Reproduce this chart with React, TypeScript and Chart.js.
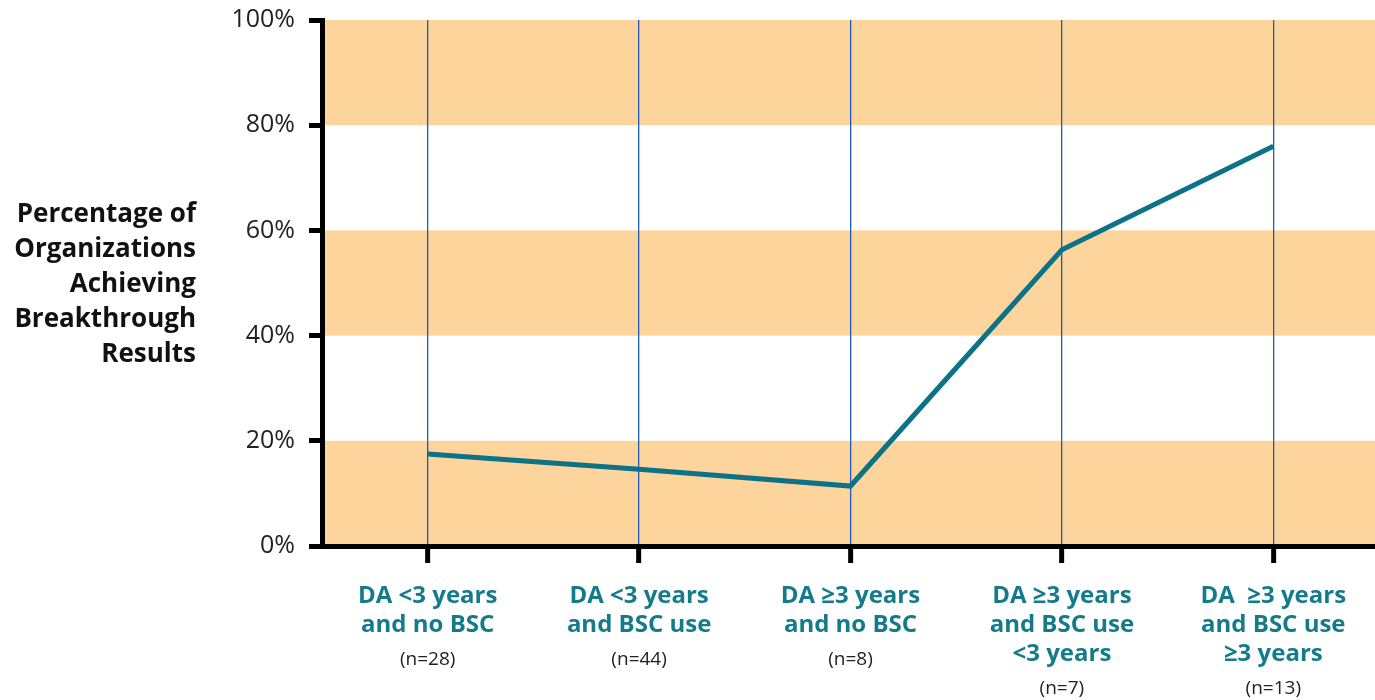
import React, { useEffect, useRef } from "react";
import { Chart, registerables } from "chart.js";

Chart.register(...registerables);

const categories: string[][] = [
  ["DA <3 years", "and no BSC"],
  ["DA <3 years", "and BSC use"],
  ["DA \u22653 years", "and no BSC"],
  ["DA \u22653 years", "and BSC use", "<3 years"],
  ["DA  \u22653 years", "and BSC use", "\u22653 years"],
];
const sampleSizes = ["(n=28)", "(n=44)", "(n=8)", "(n=7)", "(n=13)"];
const percentages = [17.5, 14.6, 11.4, 56.3, 76.0];
const bandRanges: number[][] = [
  [0, 20],
  [40, 60],
  [80, 100],
];
const yTitleLines = ["Percentage of", "Organizations", "Achieving", "Breakthrough", "Results"];

const FONT = "'Open Sans', 'Noto Sans', sans-serif";
const TEAL = "#0b7288";
const LABEL_TEAL = "#137b8b";
const BAND = "#fdd49b";
const GRID_BLUE = "#1d5bb8";

const bandsPlugin = {
  id: "bands",
  beforeDraw(chart: any) {
    const { ctx, chartArea, scales } = chart;
    const y = scales.y;
    ctx.save();
    ctx.fillStyle = BAND;
    bandRanges.forEach(([a, b]) => {
      const top = y.getPixelForValue(b);
      const bot = y.getPixelForValue(a);
      ctx.fillRect(chartArea.left, top, chartArea.right - chartArea.left, bot - top);
    });
    ctx.restore();
  },
};

const textPlugin = {
  id: "texts",
  afterDraw(chart: any) {
    const { ctx, chartArea, scales } = chart;
    const x = scales.x;
    ctx.save();
    // y-axis title
    ctx.font = `bold 26px ${FONT}`;
    ctx.fillStyle = "#111";
    ctx.textAlign = "right";
    ctx.textBaseline = "middle";
    yTitleLines.forEach((line, i) => {
      ctx.fillText(line, 196, 215 + i * 35);
    });
    // sample sizes
    ctx.font = `19px ${FONT}`;
    ctx.fillStyle = "#222";
    ctx.textAlign = "center";
    sampleSizes.forEach((s, i) => {
      const px = x.getPixelForValue(i);
      const lines = categories[i].length;
      ctx.fillText(s, px, chartArea.bottom + 49 + (lines - 1) * 29 + 36);
    });
    ctx.restore();
  },
};

export default function App() {
  const ref = useRef<HTMLCanvasElement | null>(null);
  useEffect(() => {
    if (!ref.current) return;
    const chart = new Chart(ref.current, {
      type: "line",
      data: {
        labels: categories,
        datasets: [
          {
            data: percentages,
            borderColor: TEAL,
            borderWidth: 5,
            pointRadius: 0,
            fill: false,
            tension: 0,
          },
        ],
      },
      options: {
        animation: false,
        responsive: false,
        layout: { padding: { top: 20, right: 0, left: 0, bottom: 0 } },
        plugins: { legend: { display: false }, tooltip: { enabled: false } },
        scales: {
          x: {
            type: "category",
            offset: true,
            afterFit: (s: any) => {
              s.height = 154;
              s.paddingLeft = 0;
              s.paddingRight = 0;
              s.paddingTop = 0;
              s.paddingBottom = 0;
            },
            grid: {
              offset: false,
              drawOnChartArea: true,
              color: GRID_BLUE,
              lineWidth: 1.3,
              tickLength: 17,
              tickWidth: 5,
              tickColor: "#000",
            },
            border: { display: true, color: "#000", width: 5 },
            ticks: {
              color: LABEL_TEAL,
              font: { family: FONT, size: 24, weight: "bold", lineHeight: "29px" },
              padding: 19,
              maxRotation: 0,
              autoSkip: false,
            },
          },
          y: {
            min: 0,
            max: 100,
            afterFit: (s: any) => {
              s.width = 322;
              s.paddingTop = 0;
              s.paddingBottom = 0;
              s.paddingLeft = 0;
              s.paddingRight = 0;
            },
            ticks: {
              stepSize: 20,
              color: "#222",
              font: { family: FONT, size: 25 },
              padding: 14,
              callback: (v: any) => `${v}%`,
            },
            grid: {
              drawOnChartArea: false,
              drawTicks: true,
              tickLength: 13,
              tickWidth: 5,
              tickColor: "#000",
            },
            border: { display: true, color: "#000", width: 5 },
          },
        },
      },
      plugins: [bandsPlugin, textPlugin],
    });
    return () => chart.destroy();
  }, []);
  return (
    <div style={{ position: "absolute", left: 0, top: 0, width: 1375, height: 700, background: "#fff", overflow: "hidden" }}>
      <canvas ref={ref} width={1379} height={700} style={{ width: 1379, height: 700 }} />
    </div>
  );
}
